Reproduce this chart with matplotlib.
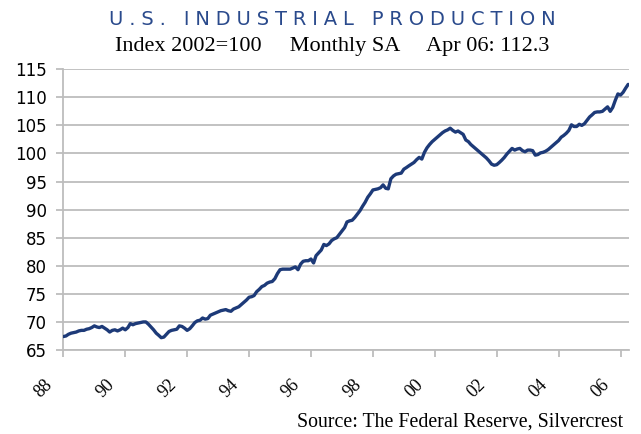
import matplotlib.dates as mdates
import matplotlib.pyplot as plt
import matplotlib.transforms as mtransforms
import pandas as pd


TITLE = "U.S. INDUSTRIAL PRODUCTION"
SUBTITLE = "Index 2002=100     Monthly SA     Apr 06: 112.3"
SOURCE = "Source: The Federal Reserve, Silvercrest"

START_MONTH = "1988-01"

# monthly index values, Jan 1988 - Apr 2006
ip_1988_1991 = [
    67.4, 67.5, 67.8, 68.0, 68.1, 68.2, 68.4, 68.5, 68.5, 68.7, 68.8, 69.0,
    69.3, 69.1, 69.0, 69.2, 68.9, 68.6, 68.2, 68.5, 68.6, 68.4, 68.6, 68.9,
    68.6, 69.0, 69.7, 69.5, 69.7, 69.8, 69.9, 70.0, 70.0, 69.6, 69.1, 68.6,
    68.0, 67.6, 67.2, 67.3, 67.8, 68.3, 68.5, 68.6, 68.7, 69.3, 69.2, 68.9,
]
ip_1992_1995 = [
    68.5, 68.8, 69.3, 69.9, 70.2, 70.3, 70.7, 70.5, 70.6, 71.2, 71.4, 71.6,
    71.8, 72.0, 72.1, 72.2, 72.0, 71.9, 72.3, 72.5, 72.7, 73.1, 73.5, 73.9,
    74.4, 74.5, 74.7, 75.4, 75.8, 76.3, 76.5, 76.9, 77.1, 77.2, 77.7, 78.6,
    79.3, 79.4, 79.4, 79.4, 79.4, 79.6, 79.8, 79.3, 80.3, 80.8, 80.9, 80.9,
]
ip_1996_1999 = [
    81.2, 80.5, 81.8, 82.3, 82.8, 83.8, 83.6, 83.9, 84.5, 84.8, 85.0, 85.6,
    86.2, 86.8, 87.8, 88.0, 88.1, 88.6, 89.2, 89.8, 90.6, 91.3, 92.2, 92.8,
    93.5, 93.6, 93.7, 93.9, 94.4, 93.8, 93.7, 95.5, 96.0, 96.3, 96.4, 96.5,
    97.2, 97.5, 97.8, 98.1, 98.4, 98.9, 99.3, 99.0, 100.2, 101.0, 101.6, 102.1,
]
ip_2000_2003 = [
    102.5, 102.9, 103.3, 103.7, 104.0, 104.2, 104.5, 104.1, 103.8, 104.0, 103.7, 103.4,
    102.4, 102.1, 101.6, 101.2, 100.8, 100.4, 100.0, 99.6, 99.2, 98.7, 98.1, 97.9,
    98.0, 98.4, 98.8, 99.3, 99.9, 100.4, 100.9, 100.6, 100.8, 100.9, 100.5, 100.3,
    100.6, 100.6, 100.5, 99.7, 99.8, 100.1, 100.2, 100.4, 100.7, 101.1, 101.5, 101.9,
]
ip_2004_2006 = [
    102.3, 102.9, 103.2, 103.6, 104.1, 105.1, 104.8, 104.8, 105.2, 105.0, 105.3, 105.9,
    106.5, 106.9, 107.3, 107.4, 107.4, 107.5, 107.9, 108.3, 107.5, 108.2, 109.5, 110.6,
    110.4, 110.9, 111.6, 112.3,
]

Y_TICKS = [65, 70, 75, 80, 85, 90, 95, 100, 105, 110, 115]

LINE_COLOR = "#1d3a78"
TITLE_COLOR = "#2a4a8c"
GRID_COLOR = "#bdbdbd"


def plot_production(ax, series):
    ax.plot(series.index, series.values, color=LINE_COLOR, linewidth=2.4,
            solid_capstyle="round", zorder=3)

    ax.set_ylim(Y_TICKS[0], Y_TICKS[-1])
    ax.set_yticks(Y_TICKS)
    ax.grid(axis="y", color=GRID_COLOR, linewidth=1.3, zorder=1)
    ax.set_xlim(series.index[0], series.index[-1] + pd.Timedelta(days=10))

    ax.xaxis.set_major_locator(mdates.YearLocator(2))
    ax.xaxis.set_major_formatter(mdates.DateFormatter("%y"))

    for side in ("top", "right"):
        ax.spines[side].set_visible(False)
    for side in ("left", "bottom"):
        ax.spines[side].set_color(GRID_COLOR)
        ax.spines[side].set_linewidth(1.3)

    ax.tick_params(axis="both", colors=GRID_COLOR, width=1.3, length=5)
    ax.tick_params(axis="y", labelcolor="black", labelsize=12, pad=7)
    ax.tick_params(axis="x", labelcolor="black", pad=14)
    for lbl in ax.get_yticklabels():
        lbl.set_fontfamily("DejaVu Sans")

    shift = mtransforms.ScaledTranslation(-20 / 100, 0, ax.figure.dpi_scale_trans)
    for lbl in ax.get_xticklabels():
        lbl.set_fontfamily("Liberation Serif")
        lbl.set_fontsize(13)
        lbl.set_rotation(45)
        lbl.set_ha("center")
        lbl.set_transform(lbl.get_transform() + shift)


def main():
    fig = plt.figure(figsize=(6.41, 4.34), dpi=100)
    ax = fig.add_axes([0.0988, 0.1935, 0.8825, 0.6470])

    values = ip_1988_1991 + ip_1992_1995 + ip_1996_1999 + ip_2000_2003 + ip_2004_2006
    months = pd.date_range(START_MONTH, periods=len(values), freq="MS")
    series = pd.Series(values, index=months)

    plot_production(ax, series)

    fig.text(0.518, 0.956, "\u2009\u200a".join(TITLE), ha="center", va="center",
             color=TITLE_COLOR, fontsize=14, fontfamily="DejaVu Sans")
    fig.text(0.518, 0.893, SUBTITLE, ha="center", va="center",
             fontsize=16, fontfamily="Liberation Serif")
    fig.text(0.972, 0.028, SOURCE, ha="right", va="center",
             fontsize=14.3, fontfamily="Liberation Serif")

    fig.savefig("out.png", dpi=100)


if __name__ == "__main__":
    main()
